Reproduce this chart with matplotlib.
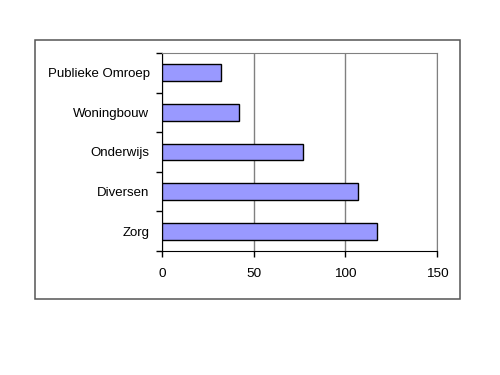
import matplotlib.pyplot as plt
from matplotlib.patches import Rectangle
import numpy as np

# categories from bottom to top
categories = ["Zorg", "Diversen", "Onderwijs", "Woningbouw", "Publieke Omroep"]
values = [117, 107, 77, 42, 32]
xticks = [0, 50, 100, 150]

plt.rcParams['font.family'] = ['Liberation Sans', 'DejaVu Sans']

fig = plt.figure(figsize=(5, 3.75), dpi=100)

# outer chart frame
fig.patches.append(Rectangle((0.07, 0.2027), 0.85, 0.6907, transform=fig.transFigure,
                             fill=False, edgecolor='#555555', linewidth=1.1))

ax = fig.add_axes([0.324, 0.3307, 0.55, 0.528])
y = np.arange(len(categories))
ax.barh(y, values, height=0.42, color='#9999ff', edgecolor='black', linewidth=1, zorder=3)

ax.set_xlim(0, 150)
ax.set_ylim(-0.5, len(categories) - 0.5)
ax.set_xticks(xticks)
ax.set_xticklabels([str(t) for t in xticks], fontsize=9.7)
ax.set_yticks(y)
ax.set_yticklabels(categories, fontsize=9.5)
ax.tick_params(axis='y', length=0, pad=9)
ax.set_yticks(np.arange(-0.5, len(categories)), minor=True)
ax.tick_params(axis='y', which='minor', length=4, width=1, direction='out')
ax.tick_params(axis='x', length=4, width=1, direction='out', pad=8)

ax.xaxis.grid(True, color='#808080', linewidth=1, zorder=0)
for side in ['top', 'right']:
    ax.spines[side].set_color('#808080')
for side in ['left', 'bottom']:
    ax.spines[side].set_color('black')

fig.savefig('out.png', dpi=100)
